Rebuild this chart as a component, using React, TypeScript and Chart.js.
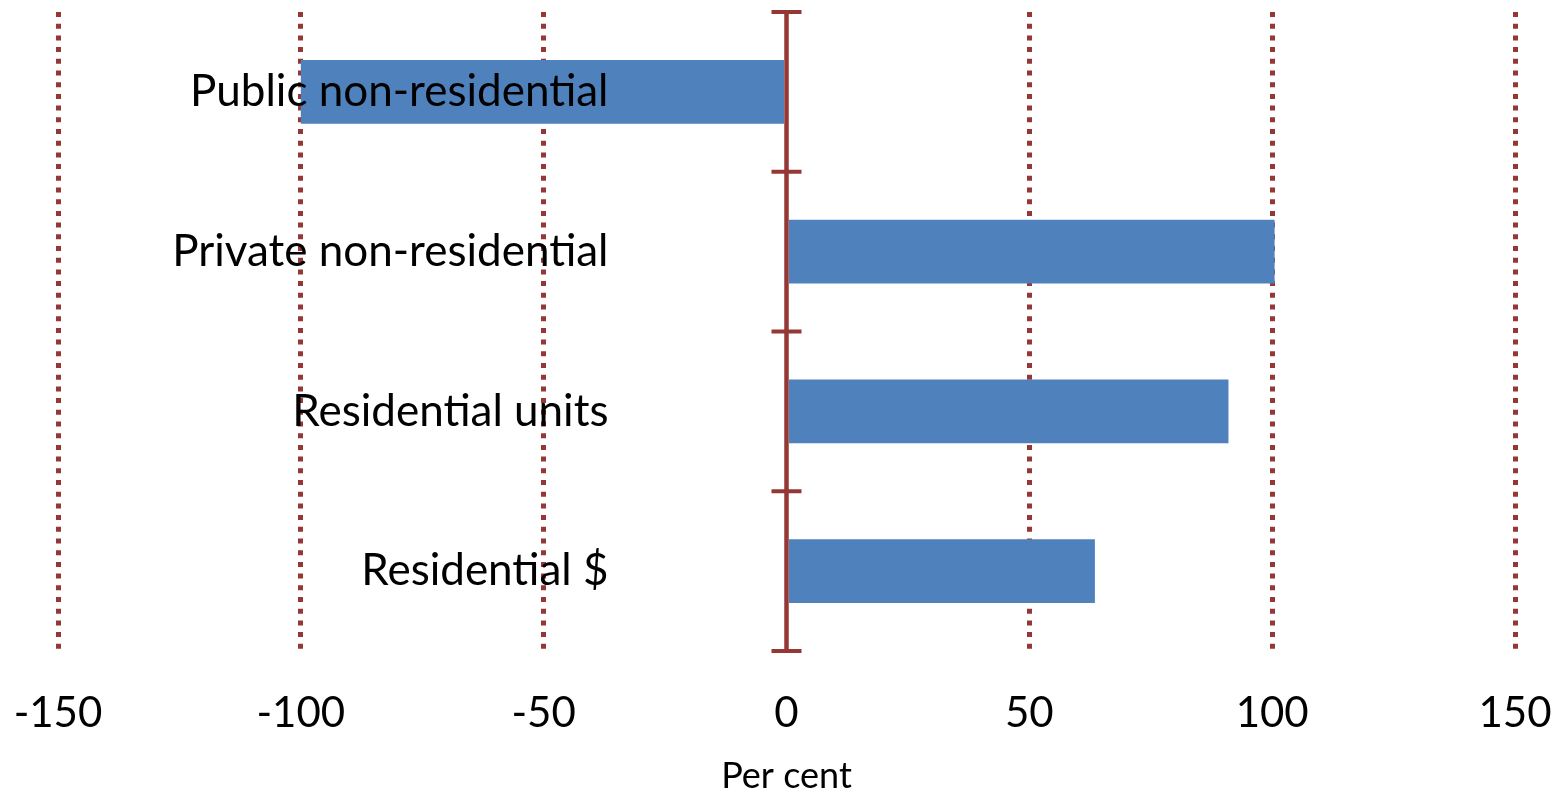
import React, { useEffect, useRef } from 'react';
import { Chart, registerables } from 'chart.js';

Chart.register(...registerables);

const categories = ['Public non-residential', 'Private non-residential', 'Residential units', 'Residential $'];
const values = [-100, 100.5, 91, 63.5];
const xMin = -150;
const xMax = 150;
const xStep = 50;
const axisTitle = 'Per cent';

const RED = '#953735';
const BLUE = '#4F81BD';
const FONT = 'Lato, "Open Sans", sans-serif';

export default function App() {
  const ref = useRef<HTMLCanvasElement>(null);

  useEffect(() => {
    const categoryAxis = {
      id: 'categoryAxis',
      afterDatasetsDraw(chart: any) {
        const ys = chart.scales.y;
        const xs = chart.scales.x;
        const x0 = xs.getPixelForValue(0);
        const n = categories.length;
        const ctx = chart.ctx;
        ctx.save();
        ctx.strokeStyle = RED;
        ctx.lineWidth = 4.5;
        ctx.beginPath();
        ctx.moveTo(x0, ys.getPixelForValue(-0.5));
        ctx.lineTo(x0, ys.getPixelForValue(n - 0.5));
        ctx.stroke();
        ctx.lineWidth = 4;
        for (let i = 0; i <= n; i++) {
          const py = ys.getPixelForValue(i - 0.5);
          ctx.beginPath();
          ctx.moveTo(x0 - 15, py);
          ctx.lineTo(x0 + 15, py);
          ctx.stroke();
        }
        ctx.fillStyle = '#000';
        ctx.font = `44px ${FONT}`;
        ctx.textAlign = 'right';
        ctx.textBaseline = 'middle';
        for (let i = 0; i < n; i++) {
          ctx.fillText(categories[i], x0 - 178, ys.getPixelForValue(i));
        }
        ctx.restore();
      },
    };

    const chart = new Chart(ref.current!, {
      type: 'bar',
      data: {
        labels: categories,
        datasets: [
          {
            data: values,
            backgroundColor: BLUE,
            borderWidth: 0,
            barPercentage: 0.4,
            categoryPercentage: 1,
          },
        ],
      },
      plugins: [categoryAxis],
      options: {
        indexAxis: 'y',
        animation: false,
        responsive: true,
        maintainAspectRatio: false,
        layout: { padding: { left: 58, right: 49, top: 12, bottom: 0 } },
        plugins: { legend: { display: false }, tooltip: { enabled: false } },
        scales: {
          x: {
            type: 'linear',
            min: xMin,
            max: xMax,
            afterFit: (scale: any) => {
              scale.height = 142;
              scale.paddingLeft = 0;
              scale.paddingRight = 0;
            },
            ticks: {
              stepSize: xStep,
              color: '#000',
              font: { family: FONT, size: 42 },
              padding: 37,
              maxRotation: 0,
            },
            grid: {
              color: (c: any) => (c.tick && c.tick.value === 0 ? 'rgba(0,0,0,0)' : RED),
              lineWidth: 5,
              drawTicks: false,
            },
            border: { display: false, dash: [5, 6.7] },
            title: {
              display: true,
              text: axisTitle,
              color: '#000',
              font: { family: FONT, size: 36 },
              padding: { top: 0, bottom: -5 },
            },
          },
          y: {
            display: false,
          },
        },
      },
    });
    return () => chart.destroy();
  }, []);

  return (
    <div style={{ position: 'fixed', left: 0, top: 0, width: 1564, height: 793 }}>
      <canvas ref={ref} />
    </div>
  );
}
